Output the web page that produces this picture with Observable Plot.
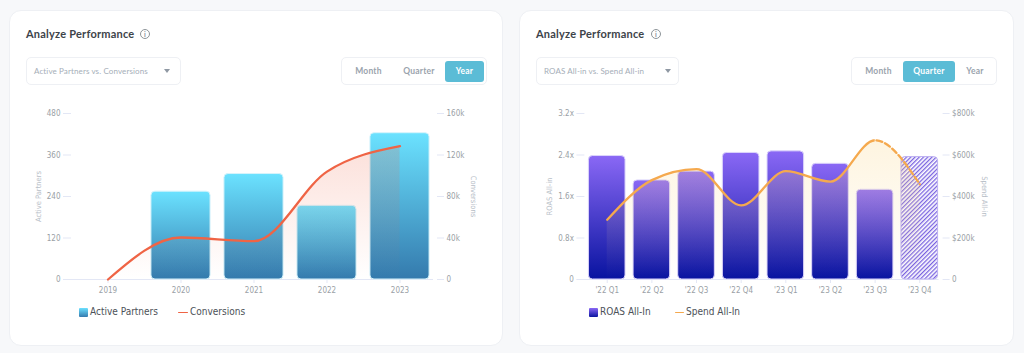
<!DOCTYPE html>
<html><head><meta charset="utf-8">
<script src="https://cdn.jsdelivr.net/npm/d3@7"></script>
<script src="https://cdn.jsdelivr.net/npm/@observablehq/plot@0.6"></script>
<style>
html,body{margin:0;padding:0;width:1024px;height:353px;overflow:hidden;background:#f7f8fa;font-family:Lato,sans-serif}
.abs,.card,.title,.info,.dd,.seg,.seg span,.leg,.sw,.chart{position:absolute}
.card{top:10px;height:336px;background:#fff;border:1px solid #eef0f4;border-radius:12px;box-sizing:border-box}
.title{top:26px;font:700 11px/15px Lato,sans-serif;letter-spacing:.22px;color:#3d4349}
.info{top:29px;width:8px;height:8px;border:1px solid #8d9499;border-radius:50%;font:700 7px/8px Lato,sans-serif;text-align:center;color:#8d9499}
.dd,.seg{top:57px;height:26px;background:#fff;border:1px solid #eef0f4;border-radius:5px;box-sizing:content-box}
.dd span{position:absolute;left:7px;top:0;font:400 8px/26px Lato,sans-serif;letter-spacing:.12px;color:#a5aeb8}
.dd i{position:absolute;top:11px;width:0;height:0;border-left:3px solid transparent;border-right:3px solid transparent;border-top:4px solid #8f98a3}
.seg span{top:3px;height:21px;text-align:center;font:700 8.5px/21px Lato,sans-serif;letter-spacing:.2px;color:#9aa3ad;border-radius:3px}
.seg span.on{background:#5bbcd6;color:#fff}
.leg{top:305px;font:400 10px/14px "DejaVu Sans Condensed","DejaVu Sans",sans-serif;font-stretch:condensed;color:#4c5158;white-space:nowrap}
.sw{top:308px;height:9px;width:9px;border-radius:1px}
.ln{top:311.5px;height:1.5px;border-radius:1px}
.chart{top:100px}
.chart svg{display:block;overflow:visible}
</style></head>
<body>
<div class="card" style="left:9px;width:494px"></div>
<div class="card" style="left:519px;width:495px"></div>
<div class="title" style="left:26px">Analyze Performance</div>
<div class="info" style="left:140px">i</div>
<div class="title" style="left:536px">Analyze Performance</div>
<div class="info" style="left:651px">i</div>
<div class="dd" style="left:26px;width:153px"><span>Active Partners vs. Conversions</span><i style="left:137px"></i></div>
<div class="dd" style="left:536px;width:141px"><span>ROAS All-in vs. Spend All-in</span><i style="left:128px"></i></div>
<div class="seg" style="left:341px;width:144px"><span style="left:2px;width:49px">Month</span><span style="left:52px;width:50px">Quarter</span><span class="on" style="left:103px;width:39px">Year</span></div>
<div class="seg" style="left:851px;width:144px"><span style="left:2px;width:49px">Month</span><span class="on" style="left:51px;width:52px">Quarter</span><span style="left:104px;width:38px">Year</span></div>
<div class="sw" style="left:79px;background:linear-gradient(#6be0ff,#357aae)"></div>
<div class="leg" style="left:90px">Active Partners</div>
<div class="ln abs" style="left:178px;width:10px;background:#ef6445"></div>
<div class="leg" style="left:190px">Conversions</div>
<div class="sw" style="left:589px;background:linear-gradient(#8a68f5,#0a14a0)"></div>
<div class="leg" style="left:600px">ROAS All-In</div>
<div class="ln abs" style="left:675px;width:9px;background:#f5a94e"></div>
<div class="leg" style="left:686px">Spend All-In</div>
<div class="chart" id="c1" style="left:20px"></div>
<div class="chart" id="c2" style="left:530px"></div>
<script>
const years = ["2019","2020","2021","2022","2023"];
const activePartners = [null,254,305,213,423];
const conversions = [0,40500,37000,104000,128500];
const leftTicks = [0,120,240,360,480];
const conversionTicks = ["0","40k","80k","120k","160k"];

const quarters = ["'22 Q1","'22 Q2","'22 Q3","'22 Q4","'23 Q1","'23 Q2","'23 Q3","'23 Q4"];
const roas = [2.38,1.91,2.08,2.44,2.47,2.23,1.73,2.36];
const spend = [288000,479000,532000,357000,522000,472000,671000,459000];
const roasTicks = [0,0.8,1.6,2.4,3.2];
const spendTicks = ["0","$200k","$400k","$600k","$800k"];

const AXIS = "#e3e7f5", TICK = "#9a9fa6", TITLE = "#b7bec7";
const FONT = "DejaVu Sans Condensed, DejaVu Sans";

function gradient(id, top, bottom, o1 = 1, o2 = 1) {
  return () => {
    const s = d3.create("svg:defs");
    const g = s.append("linearGradient").attr("id", id).attr("x1", 0).attr("x2", 0).attr("y1", 0).attr("y2", 1);
    g.append("stop").attr("offset", "0%").attr("stop-color", top).attr("stop-opacity", o1);
    g.append("stop").attr("offset", "100%").attr("stop-color", bottom).attr("stop-opacity", o2);
    return s.node();
  };
}
function hatch(id, color) {
  return () => {
    const s = d3.create("svg:defs");
    const p = s.append("pattern").attr("id", id).attr("patternUnits", "userSpaceOnUse")
      .attr("width", 3).attr("height", 3).attr("patternTransform", "rotate(45)");
    p.append("rect").attr("width", 1.3).attr("height", 3).attr("fill", color);
    return s.node();
  };
}
function clipped(id, fromKey, side) {
  return (index, scales, values, dims, ctx, next) => {
    const g = next(index, scales, values, dims, ctx);
    const cx = scales.x(fromKey) + scales.x.bandwidth() / 2;
    const ns = "http://www.w3.org/2000/svg";
    const cp = document.createElementNS(ns, "clipPath"); cp.setAttribute("id", id);
    const r = document.createElementNS(ns, "rect");
    r.setAttribute("x", side === "left" ? 0 : cx);
    r.setAttribute("width", side === "left" ? cx : dims.width);
    r.setAttribute("y", 0); r.setAttribute("height", dims.height);
    cp.appendChild(r);
    const wrap = document.createElementNS(ns, "g");
    wrap.appendChild(cp);
    wrap.setAttribute("clip-path", `url(#${id})`);
    wrap.appendChild(g);
    return wrap;
  };
}
function axes(opt) {
  return [
    Plot.ruleY([0], {stroke: AXIS, strokeWidth: 1, insetLeft: -6, insetRight: 3}),
    Plot.axisX({tickSize: 4, tickPadding: 4, label: null, stroke: AXIS, fill: TICK, fontSize: 8, fontFamily: FONT}),
    Plot.axisY({ticks: opt.ticks, tickSize: 8, tickPadding: 3, label: null, stroke: AXIS, fill: TICK, tickFormat: opt.leftFormat, fontSize: 8, fontFamily: FONT}),
    Plot.axisY({anchor: "right", ticks: opt.ticks, tickSize: 7, tickPadding: 3, label: null, stroke: AXIS, fill: TICK, tickFormat: opt.rightFormat, fontSize: 8, fontFamily: FONT}),
    Plot.text([opt.leftTitle], {frameAnchor: "left", textAnchor: "middle", rotate: -90, dx: opt.ldx, fill: TITLE, fontSize: 7.5, fontFamily: FONT}),
    Plot.text([opt.rightTitle], {frameAnchor: "right", textAnchor: "middle", rotate: 90, dx: opt.rdx, fill: TITLE, fontSize: 7.5, fontFamily: FONT})
  ];
}

// Left chart
const t1 = years.map((k, i) => ({k, bar: activePartners[i], line: conversions[i] * 480 / 160000}));
document.getElementById("c1").append(Plot.plot({
  width: 480, height: 200, marginLeft: 51, marginRight: 64, marginTop: 13, marginBottom: 21,
  x: {domain: years, paddingInner: 0.19, paddingOuter: 0.095, round: false},
  y: {domain: [0, 480]},
  style: {background: "transparent", overflow: "visible"},
  marks: [
    gradient("barA", "#6be2ff", "#347aad"),
    gradient("areaA", "#ef6445", "#ef6445", 0.2, 0),
    ...axes({ticks: leftTicks, leftFormat: d => d, rightFormat: (d, i) => conversionTicks[leftTicks.indexOf(d)],
      leftTitle: "Active Partners", rightTitle: "Conversions", ldx: -33, rdx: 37}),
    Plot.barY(t1.filter(d => d.bar != null), {x: "k", y: "bar", fill: "url(#barA)", stroke: "#d6f3fb", strokeWidth: 1, rx: 4}),
    Plot.areaY(t1, {x: "k", y: "line", curve: "monotone-x", fill: "url(#areaA)"}),
    Plot.lineY(t1, {x: "k", y: "line", curve: "monotone-x", stroke: "#ef6445", strokeWidth: 2.3})
  ]
}));

// Right chart
const t2 = quarters.map((k, i) => ({k, bar: roas[i], line: spend[i] * 3.2 / 800000}));
document.getElementById("c2").append(Plot.plot({
  width: 480, height: 200, marginLeft: 54.4, marginRight: 68.4, marginTop: 13, marginBottom: 21,
  x: {domain: quarters, paddingInner: 0.18, paddingOuter: 0.09, round: false},
  y: {domain: [0, 3.2]},
  style: {background: "transparent", overflow: "visible"},
  marks: [
    gradient("barB", "#8a68f5", "#0813a0"),
    gradient("areaB", "#fbd98f", "#fbd98f", 0.28, 0),
    hatch("hatchB", "#7a63e0"),
    ...axes({ticks: roasTicks, leftFormat: d => d === 0 ? "0" : d.toFixed(1) + "x", rightFormat: d => spendTicks[roasTicks.indexOf(d)],
      leftTitle: "ROAS All-in", rightTitle: "Spend All-in", ldx: -35, rdx: 42}),
    Plot.barY(t2.slice(0, 7), {x: "k", y: "bar", fill: "url(#barB)", stroke: "#dcd5fb", strokeWidth: 1, rx: 4}),
    Plot.barY(t2.slice(7), {x: "k", y: "bar", fill: "url(#hatchB)", stroke: "#bdb0f2", strokeWidth: 1, rx: 4}),
    Plot.areaY(t2, {x: "k", y: "line", curve: "monotone-x", fill: "url(#areaB)"}),
    Plot.lineY(t2, {x: "k", y: "line", curve: "monotone-x", stroke: "#f5a94e", strokeWidth: 2.3, render: clipped("solidB", "'23 Q3", "left")}),
    Plot.lineY(t2, {x: "k", y: "line", curve: "monotone-x", stroke: "#f5a94e", strokeWidth: 2.3, strokeDasharray: "6,3", render: clipped("dashB", "'23 Q3", "right")})
  ]
}));
</script>
</body></html>
